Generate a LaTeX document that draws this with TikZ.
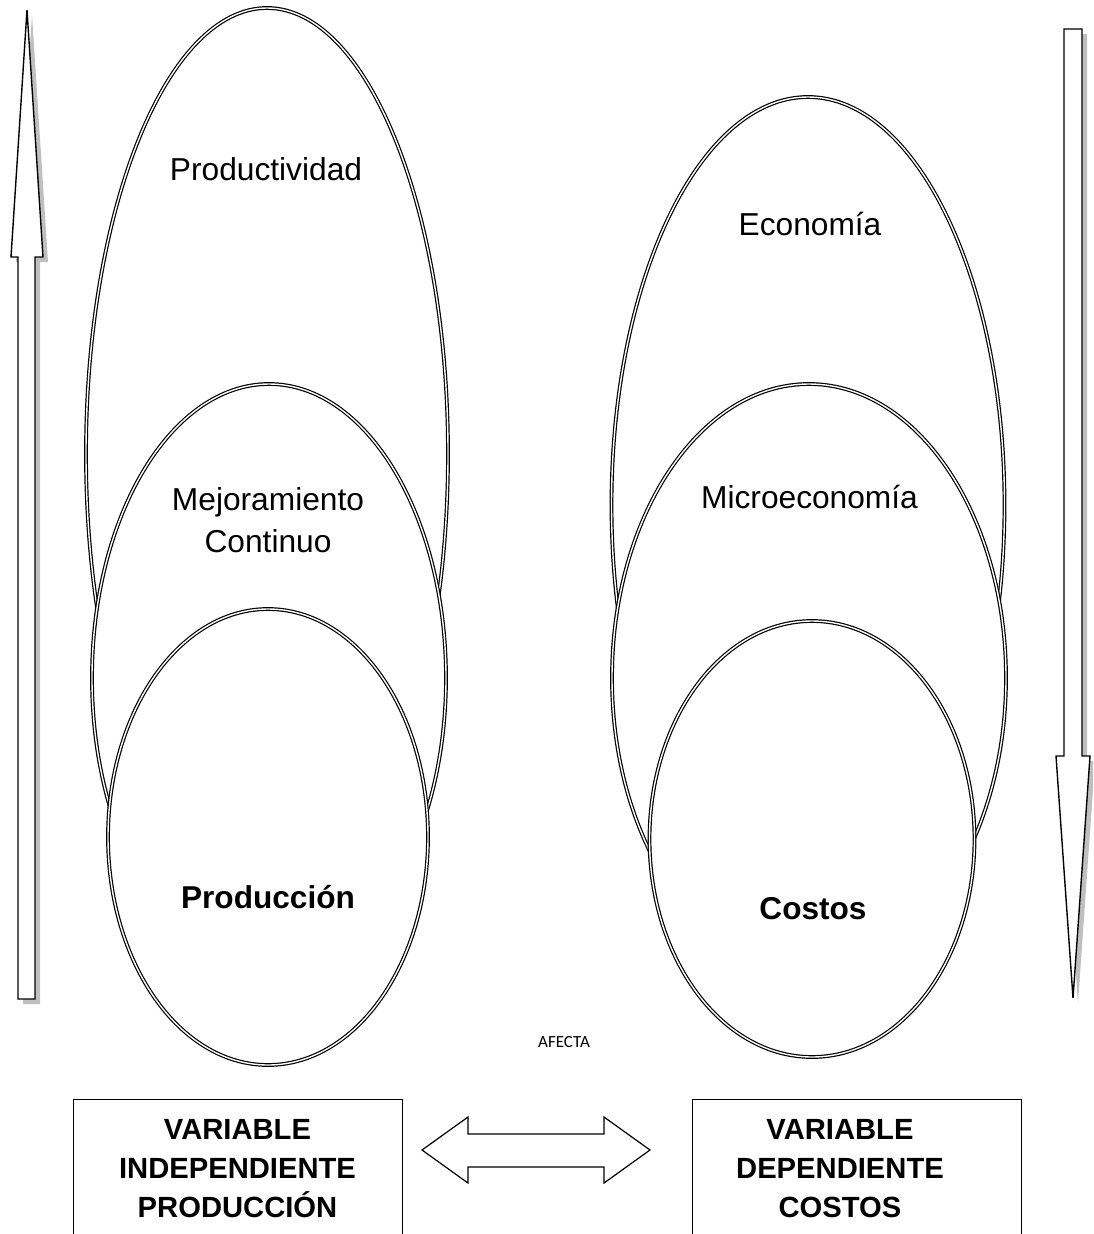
\documentclass[tikz,border=0pt]{standalone}
\usepackage{fontspec}
\setmainfont{Liberation Sans}
\newfontfamily\calibrifont{Carlito}
\usetikzlibrary{shapes.geometric}
\begin{document}
\begin{tikzpicture}[x=1pt,y=-1pt,
  oval/.style={ellipse, draw=black, double=white, double distance=1.4pt,
               line width=1.2pt, fill=white, inner sep=0pt},
  lbl/.style={font=\fontsize{31.7}{38}\selectfont, anchor=base, inner sep=0pt},
  blbl/.style={lbl, font=\fontsize{31.6}{38}\selectfont\bfseries},
  boxtxt/.style={font=\fontsize{29.2}{39}\selectfont\bfseries, anchor=base, inner sep=0pt},
  varbox/.style={draw=black, line width=1.4pt, fill=white, minimum width=329pt,
                 minimum height=160pt, anchor=north west, inner sep=0pt},
  blockarrow/.style={draw=black, line width=1.4pt, fill=white, line join=miter},
  arrowshadow/.style={fill=black!25, draw=none}
]
\useasboundingbox (0,0) rectangle (1093,1234);
\clip (0,0) rectangle (1093,1234);

% upward block arrow on the left, with its drop shadow
\fill[arrowshadow, shift={(5,5)}]
  (27,10) -- (43,257) -- (35,257) -- (35,999) -- (18,999) -- (18,257) -- (11,257) -- cycle;
\draw[blockarrow]
  (27,10) -- (43,257) -- (35,257) -- (35,999) -- (18,999) -- (18,257) -- (11,257) -- cycle;

% downward block arrow on the right, with its drop shadow
\fill[arrowshadow, shift={(5,5)}]
  (1064,29) -- (1082,29) -- (1082,756) -- (1090,756) -- (1073,998) -- (1056,756) -- (1064,756) -- cycle;
\draw[blockarrow]
  (1064,29) -- (1082,29) -- (1082,756) -- (1090,756) -- (1073,998) -- (1056,756) -- (1064,756) -- cycle;

% left stack of ovals
\node[oval, minimum width=362pt, minimum height=892pt] (prodv) at (267,454) {};
\node[oval, minimum width=354pt, minimum height=588pt] (mejora) at (269,678) {};
\node[oval, minimum width=320pt, minimum height=456pt] (produc) at (268,837) {};

% right stack of ovals
\node[oval, minimum width=393pt, minimum height=816pt] (econ) at (808,505) {};
\node[oval, minimum width=394pt, minimum height=588pt] (micro) at (809,678) {};
\node[oval, minimum width=325pt, minimum height=436pt] (costos) at (812,839) {};

% oval labels
\node[lbl] (tprodv) at (266,180) {Productividad};
\node[lbl] (tmejora1) at (268,510) {Mejoramiento};
\node[lbl] (tmejora2) at (268,552) {Continuo};
\node[blbl] (tproduc) at (268,908) {Producción};
\node[lbl] (tecon) at (810,235) {Economía};
\node[lbl] (tmicro) at (809.5,508) {Microeconomía};
\node[blbl] (tcostos) at (813,919) {Costos};

% relation between the two variables
\node[font=\calibrifont\fontsize{17}{21}\selectfont, anchor=base, inner sep=0pt] (afecta) at (564,1047) {AFECTA};

\node[varbox] (vind) at (73,1099) {};
\node[varbox] (vdep) at (692,1099) {};

\node[boxtxt] (vi1) at (237.5,1139) {VARIABLE};
\node[boxtxt] (vi2) at (237.5,1178) {INDEPENDIENTE};
\node[boxtxt] (vi3) at (237.5,1217) {PRODUCCIÓN};

\node[boxtxt] (vd1) at (840,1139) {VARIABLE};
\node[boxtxt] (vd2) at (840,1178) {DEPENDIENTE};
\node[boxtxt] (vd3) at (840,1217) {COSTOS};

% two-headed block arrow between the boxes
\draw[blockarrow, line width=1.2pt]
  (422,1150) -- (468,1117) -- (468,1134) -- (604,1134) -- (604,1117) -- (650,1150)
  -- (604,1183) -- (604,1167) -- (468,1167) -- (468,1183) -- cycle;
\end{tikzpicture}
\end{document}
